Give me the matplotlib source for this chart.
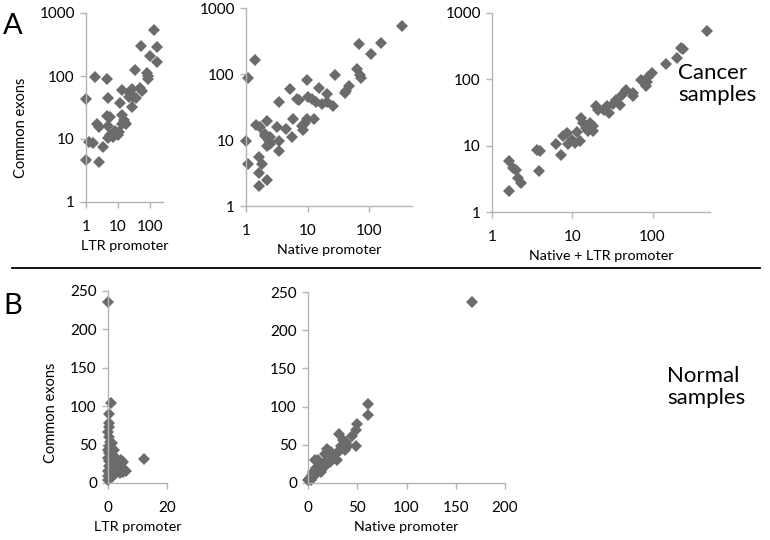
import matplotlib
matplotlib.use("Agg")
import matplotlib.pyplot as plt
from matplotlib.ticker import FixedLocator, NullLocator, FixedFormatter
from matplotlib.lines import Line2D

plt.rcParams["font.family"] = ["Lato", "DejaVu Sans"]

# ---- data ----
# A: cancer samples (log-log)
ltr_cancer_x = [133, 51, 162, 100, 162, 34, 78, 89, 85, 1.9, 4.6, 27, 49, 55, 13, 23, 30, 36, 22,
                1.0, 4.9, 11.5, 27, 4.4, 5.6, 13, 15, 13, 16, 18, 2.15, 2.6, 4.9, 11, 8, 9.8, 5.6,
                4.7, 6.8, 1.27, 1.7, 3.5, 1.0, 2.6]
ltr_cancer_y = [540, 300, 290, 205, 165, 125, 110, 91, 100, 95, 90, 63, 65, 58, 60, 53, 47, 44, 47,
                43, 44, 37, 32, 23, 22, 24, 20, 17.5, 18, 17, 17.5, 15.5, 16, 13, 13.5, 11.5, 11.5,
                10.5, 10.8, 8.9, 8.6, 7.6, 4.6, 4.3]

native_cancer_x = [340, 70, 155, 107, 1.4, 63, 27.5, 71, 75, 1.09, 9.7, 5.1, 15.4, 48, 43, 40, 20.5,
                   6.7, 7.3, 10, 11.7, 13.7, 3.4, 17, 20.5, 25.6, 1.46, 1.69, 2.17, 5.9, 9.7, 9.1,
                   8.0, 8.6, 12.8, 3.2, 4.5, 2.0, 2.0, 2.45, 2.33, 5.6, 1.0, 3.5, 2.2, 2.5, 3.5,
                   1.06, 1.6, 1.8, 1.6, 2.2, 1.6]
native_cancer_y = [530, 280, 290, 200, 162, 120, 96, 96, 88, 88, 80, 59, 61, 65, 55, 52, 50,
                   42, 40, 45, 42, 38, 38, 35, 38, 33, 17, 16, 19.5, 20.5, 21, 18,
                   16.5, 14, 21, 15.5, 14.5, 12.4, 11.5, 11, 9.8, 11, 9.5, 9.5, 8, 8.6, 6.9,
                   4.3, 5.5, 4.3, 3.2, 2.5, 2.0]

both_cancer_x = [480, 224, 240, 204, 146, 98, 89, 72, 85, 83, 47, 57, 42, 57, 35, 32, 39, 27, 25,
                 20, 21, 28.5, 13, 13.6, 16.7, 18, 15, 15.8, 18, 8.5, 7.7, 11.3, 9.8, 12.4, 10.8,
                 8.9, 6.2, 7.3, 3.6, 4.0, 3.9, 1.65, 1.85, 2.0, 2.1, 2.3, 1.65]
both_cancer_y = [540, 300, 285, 210, 170, 125, 110, 98, 90, 80, 69, 62, 59, 56, 49, 43, 41, 40, 35,
                 40, 35, 31, 26, 22, 22, 19.5, 18.5, 16.6, 16.6, 15.5, 13.8, 16, 12.3, 11.8, 11,
                 10.5, 10.5, 7.3, 8.7, 8.2, 4.2, 5.8, 4.6, 4.3, 3.2, 2.7, 2.05]

# B: normal samples (linear)
ltr_normal_x = [0, 0.9, 0.35, 12.1, 0.3, 0.3, 0.1, 0.3, 0.6, 0.3, 0.1, 0.3, 0.1, 0.3, 0.3, 0.1, 0.1,
                0.1, 1.5, 2.0, 2.0, 3.2, 2.7, 2.0, 1.5, 1.3, 3.2, 3.8, 4.4, 5.2, 4.0, 5.5, 5.0,
                6.1, 3.8]
ltr_normal_y = [236, 104, 89.5, 31.6, 78, 73, 67, 60, 54, 48, 43, 39, 32, 28, 22, 15, 9,
                4, 52, 43, 35, 30, 24, 17, 13, 8, 15, 19, 30, 27, 13, 17, 14,
                15, 24]

native_normal_x = [166, 61, 61, 50, 48.5, 44.7, 31.5, 49, 39, 35.6, 40.7, 34, 32, 29, 29.5, 19.7,
                   17, 23.7, 25.4, 22, 18.6, 15, 10, 6.8, 11.9, 8.5, 5, 4.4, 1.7, 0, 2.7, 8.5,
                   13.5, 17, 23.7, 38]
native_normal_y = [237, 104, 89, 77, 70, 61.5, 64, 48, 54, 56, 49, 49, 43, 39, 30, 44,
                   38, 36, 32, 27.5, 23, 19, 30, 30, 23, 19, 14, 10, 7, 4.4, 3.5, 12,
                   14, 27.5, 40.6, 43]

log_ticks = [1, 10, 100, 1000]

W, H = 770, 540
fig = plt.figure(figsize=(W / 100, H / 100), dpi=100)


def box(x0, x1, ytop, ybot):
    # pixel box -> figure fraction
    return [x0 / W, 1 - ybot / H, (x1 - x0) / W, (ybot - ytop) / H]


def style(ax, xlabel, ylabel, ylab_pos):
    for s in ["top", "right"]:
        ax.spines[s].set_visible(False)
    for s in ["left", "bottom"]:
        ax.spines[s].set_color("#b4b4b4")
        ax.spines[s].set_linewidth(1.0)
    ax.tick_params(direction="out", length=4, width=1, color="#b4b4b4", labelsize=11)
    ax.tick_params(axis="x", pad=9)
    ax.tick_params(axis="y", pad=4)
    ax.set_xlabel(xlabel, fontsize=10.3, labelpad=4)
    if ylabel:
        ax.set_ylabel(ylabel, fontsize=10.5)
        ax.yaxis.set_label_coords(*ylab_pos)


def draw(ax, x, y):
    ax.plot(x, y, linestyle="none", marker="D", markersize=5.8, color="#6b6b6b",
            markeredgewidth=0, clip_on=False)


def log_panel(rect, x, y, xmax, xlabel, ylabel=None, ylab_pos=None):
    ax = fig.add_axes(rect)
    draw(ax, x, y)
    ax.set_xscale("log")
    ax.set_yscale("log")
    ax.set_xlim(1, xmax)
    ax.set_ylim(1, 1000)
    xt = [t for t in log_ticks if t <= xmax]
    ax.xaxis.set_major_locator(FixedLocator(xt))
    ax.xaxis.set_major_formatter(FixedFormatter([str(t) for t in xt]))
    ax.yaxis.set_major_locator(FixedLocator(log_ticks))
    ax.yaxis.set_major_formatter(FixedFormatter([str(t) for t in log_ticks]))
    ax.xaxis.set_minor_locator(NullLocator())
    ax.yaxis.set_minor_locator(NullLocator())
    style(ax, xlabel, ylabel, ylab_pos)
    return ax


def lin_panel(rect, x, y, xmax, xticks, xlabel, ylabel=None, ylab_pos=None):
    ax = fig.add_axes(rect)
    draw(ax, x, y)
    ax.set_xlim(0, xmax)
    ax.set_ylim(0, 250)
    ax.set_xticks(xticks)
    ax.set_yticks([0, 50, 100, 150, 200, 250])
    style(ax, xlabel, ylabel, ylab_pos)
    return ax


log_panel(box(86, 163, 13, 202), ltr_cancer_x, ltr_cancer_y, 255, "LTR promoter",
          "Common exons", ((28 - 86) / 77, (202 - 128) / 189))
log_panel(box(246, 412, 8, 206), native_cancer_x, native_cancer_y, 500, "Native promoter")
log_panel(box(492, 710, 13, 212), both_cancer_x, both_cancer_y, 520, "Native + LTR promoter")

lin_panel(box(108, 167, 291, 483), ltr_normal_x, ltr_normal_y, 20, [0, 20],
          "LTR promoter", "Common exons", ((58 - 108) / 59, (483 - 413) / 192))
lin_panel(box(308, 505, 292, 483), native_normal_x, native_normal_y, 200,
          [0, 50, 100, 150, 200], "Native promoter")

fig.text(3 / W, 1 - 34 / H, "A", fontsize=21)
fig.text(3 / W, 1 - 314 / H, "B", fontsize=21)
fig.text(678 / W, 1 - 101 / H, "Cancer\nsamples", fontsize=16, linespacing=1.15)
fig.text(667 / W, 1 - 404 / H, "Normal\nsamples", fontsize=16, linespacing=1.15)

fig.add_artist(Line2D([12 / W, 760 / W], [1 - 268 / H, 1 - 268 / H], color="black", linewidth=1.3))

fig.savefig("out.png", dpi=100)
